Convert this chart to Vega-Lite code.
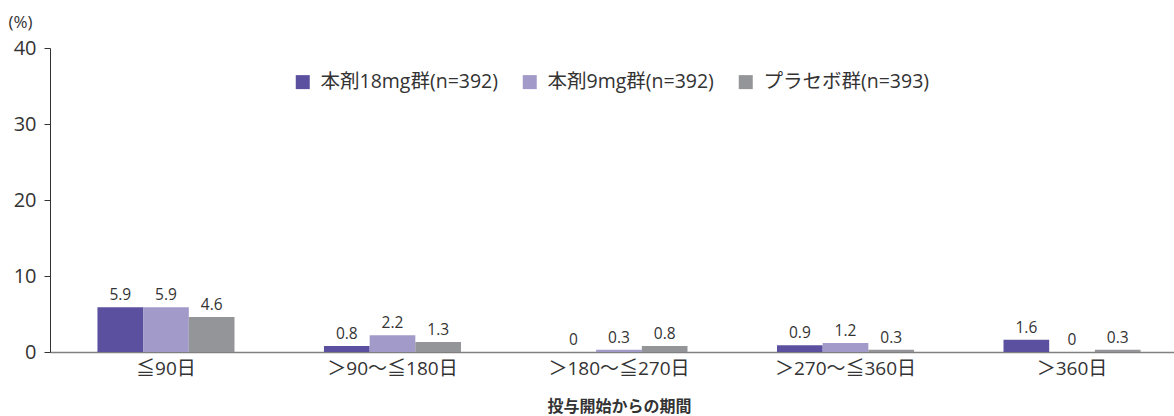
{
  "$schema": "https://vega.github.io/schema/vega-lite/v6.json",
  "autosize": "none",
  "width": 1138,
  "height": 304,
  "padding": {"left": 50, "top": 48, "right": 0, "bottom": 64},
  "background": "#ffffff",
  "config": {
    "font": "Open Sans, Noto Sans CJK JP",
    "view": {"stroke": null},
    "axis": {"labelColor": "#333333", "titleColor": "#333333", "grid": false}
  },
  "data": {
    "values": [
      {"period": "≦90日", "group": "本剤18mg群(n=392)", "value": 5.9},
      {"period": "≦90日", "group": "本剤9mg群(n=392)", "value": 5.9},
      {"period": "≦90日", "group": "プラセボ群(n=393)", "value": 4.6},
      {"period": "＞90〜≦180日", "group": "本剤18mg群(n=392)", "value": 0.8},
      {"period": "＞90〜≦180日", "group": "本剤9mg群(n=392)", "value": 2.2},
      {"period": "＞90〜≦180日", "group": "プラセボ群(n=393)", "value": 1.3},
      {"period": "＞180〜≦270日", "group": "本剤18mg群(n=392)", "value": 0},
      {"period": "＞180〜≦270日", "group": "本剤9mg群(n=392)", "value": 0.3},
      {"period": "＞180〜≦270日", "group": "プラセボ群(n=393)", "value": 0.8},
      {"period": "＞270〜≦360日", "group": "本剤18mg群(n=392)", "value": 0.9},
      {"period": "＞270〜≦360日", "group": "本剤9mg群(n=392)", "value": 1.2},
      {"period": "＞270〜≦360日", "group": "プラセボ群(n=393)", "value": 0.3},
      {"period": "＞360日", "group": "本剤18mg群(n=392)", "value": 1.6},
      {"period": "＞360日", "group": "本剤9mg群(n=392)", "value": 0},
      {"period": "＞360日", "group": "プラセボ群(n=393)", "value": 0.3}
    ]
  },
  "encoding": {
    "x": {
      "field": "period",
      "type": "nominal",
      "sort": ["≦90日", "＞90〜≦180日", "＞180〜≦270日", "＞270〜≦360日", "＞360日"],
      "scale": {"paddingInner": 0.395, "paddingOuter": 0.2095},
      "axis": {
        "title": "投与開始からの期間",
        "titleFontSize": 16,
        "titleFontWeight": "bold",
        "titlePadding": 20,
        "labelAngle": 0,
        "labelFontSize": 19,
        "labelPadding": 7,
        "ticks": false,
        "domainColor": "#808080",
        "domainWidth": 1.5
      }
    },
    "xOffset": {
      "field": "group",
      "type": "nominal",
      "sort": ["本剤18mg群(n=392)", "本剤9mg群(n=392)", "プラセボ群(n=393)"],
      "scale": {"paddingInner": 0, "paddingOuter": 0}
    },
    "y": {
      "field": "value",
      "type": "quantitative",
      "scale": {"domain": [0, 40], "nice": false},
      "axis": {
        "values": [0, 10, 20, 30, 40],
        "title": "(%)",
        "titleAngle": 0,
        "titleAlign": "left",
        "titleBaseline": "middle",
        "titleFontWeight": "normal",
        "titleFontSize": 17,
        "titleX": -42,
        "titleY": -26,
        "labelFontSize": 20,
        "labelPadding": 8,
        "tickSize": 6,
        "tickColor": "#333333",
        "domainColor": "#333333",
        "labelFlush": false
      }
    }
  },
  "layer": [
    {
      "mark": {"type": "bar", "width": {"band": 1}},
      "encoding": {
        "color": {
          "field": "group",
          "type": "nominal",
          "sort": ["本剤18mg群(n=392)", "本剤9mg群(n=392)", "プラセボ群(n=393)"],
          "scale": {
            "domain": ["本剤18mg群(n=392)", "本剤9mg群(n=392)", "プラセボ群(n=393)"],
            "range": ["#5b509f", "#a29ac9", "#949598"]
          },
          "legend": {
            "title": null,
            "orient": "none",
            "direction": "horizontal",
            "legendX": 243,
            "legendY": 24,
            "symbolType": "square",
            "symbolSize": 196,
            "symbolStrokeWidth": 0,
            "labelFontSize": 19.5,
            "labelColor": "#333333",
            "labelOffset": 8,
            "columnPadding": 22,
            "labelLimit": 300
          }
        }
      }
    },
    {
      "mark": {"type": "text", "baseline": "alphabetic", "dy": -7, "fontSize": 15.5, "color": "#333333"},
      "encoding": {"text": {"field": "value", "type": "quantitative"}}
    }
  ]
}
